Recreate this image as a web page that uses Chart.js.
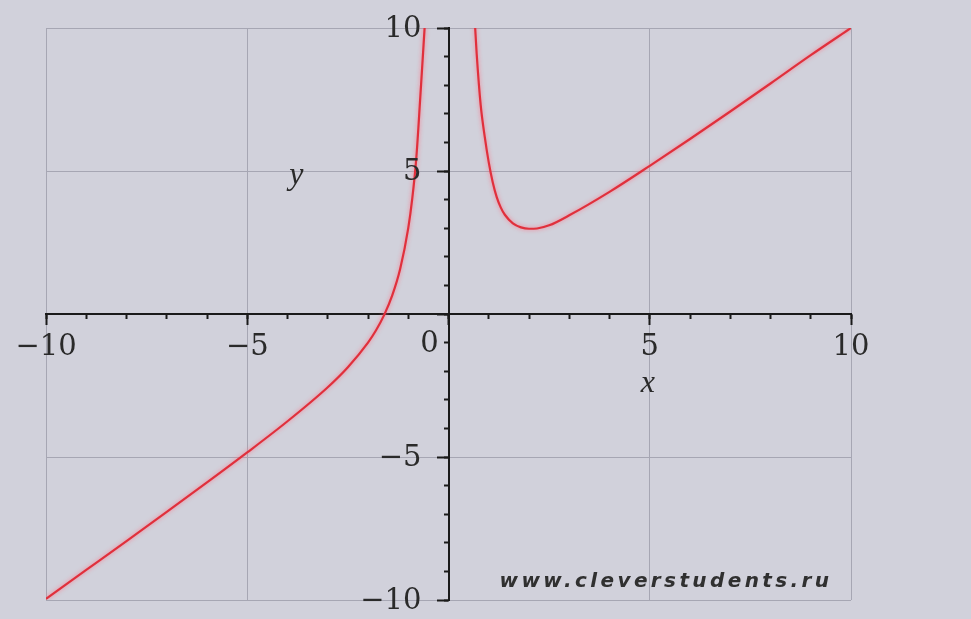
<!DOCTYPE html>
<html>
<head>
<meta charset="utf-8">
<script src="https://cdn.jsdelivr.net/npm/chart.js@4"></script>
<style>
  html, body { margin: 0; padding: 0; background: #d1d1db; }
  canvas { display: block; }
</style>
</head>
<body>
<canvas id="plot" width="971" height="619"></canvas>
<script>
// left branch (x < 0) and right branch (x > 0) of the curve
const leftX  = [-10, -9, -8, -7, -6, -5, -4, -3, -2.5, -2, -1.8, -1.6, -1.4, -1.2, -1.0, -0.9, -0.8, -0.7, -0.62, -0.55];
const leftY  = [-9.96, -8.95, -7.94, -6.92, -5.89, -4.84, -3.75, -2.56, -1.86, -1.0, -0.57, -0.04, 0.64, 1.58, 3.0, 4.04, 5.45, 7.6, 9.4, 11.0];
const rightX = [0.6, 0.65, 0.7, 0.8, 0.9, 1.0, 1.1, 1.2, 1.3, 1.4, 1.6, 1.8, 2.0, 2.2, 2.5, 3, 4, 5, 6, 7, 8, 9, 10];
const rightY = [11.7, 10.3, 9.1, 7.3, 6.2, 5.3, 4.6, 4.08, 3.72, 3.47, 3.17, 3.03, 2.98, 2.99, 3.1, 3.45, 4.27, 5.18, 6.12, 7.08, 8.06, 9.05, 10.0];

const axisMin = -10, axisMax = 10;
const majorStep = 5, minorStep = 1;

const bgColor = '#d1d1db';
const gridColor = '#a6a6b3';
const lineColor = '#e0303c';
const textColor = '#2a2a2a';
const labelFont = { family: 'DejaVu Serif', size: 29 };

function pts(xs, ys) {
    return xs.map((x, i) => ({ x: x, y: ys[i] }));
}

function fmt(v) {
    if (v === 0) return '';
    return v < 0 ? '\u2212' + Math.abs(v) : String(v);
}

// gray frame + inner grid at +-5, nothing at 0 (the axis sits there)
function gridAt(ctx) {
    return ctx.tick && ctx.tick.value === 0 ? 'rgba(0,0,0,0)' : gridColor;
}

const extras = {
    id: 'extras',
    beforeDraw(chart) {
        const c = chart.ctx;
        c.save();
        c.fillStyle = bgColor;
        c.fillRect(0, 0, chart.width, chart.height);
        c.restore();
    },
    // soft pink halo round the curve
    beforeDatasetsDraw(chart) {
        const c = chart.ctx;
        c.save();
        c.shadowColor = 'rgba(255,110,130,0.85)';
        c.shadowBlur = 4;
    },
    afterDatasetsDraw(chart) {
        chart.ctx.restore();
    },
    afterDraw(chart) {
        const c = chart.ctx;
        const xs = chart.scales.x, ys = chart.scales.y;
        const x0 = xs.getPixelForValue(0), y0 = ys.getPixelForValue(0);
        c.save();
        c.fillStyle = textColor;
        c.font = labelFont.size + 'px "' + labelFont.family + '"';
        // y tick labels, right-aligned clear of the long ticks
        c.textAlign = 'right';
        c.textBaseline = 'middle';
        ys.ticks.forEach(t => {
            const s = fmt(t.value);
            if (s) c.fillText(s, x0 - 27, ys.getPixelForValue(t.value) + 1);
        });
        // origin label, set off to the left of the vertical axis
        c.textAlign = 'center';
        c.fillText('0', x0 - 19, y0 + 30);
        // axis names
        c.font = 'italic 32px "Liberation Serif"';
        c.fillText('x', xs.getPixelForValue(4.95), ys.getPixelForValue(-2.45));
        c.fillText('y', xs.getPixelForValue(-3.78), ys.getPixelForValue(4.85));
        // site mark in the lower right corner
        c.font = 'italic bold 20px "DejaVu Sans"';
        c.fillStyle = '#303030';
        c.textAlign = 'left';
        c.textBaseline = 'alphabetic';
        c.letterSpacing = '3.4px';
        c.fillText('www.cleverstudents.ru', xs.getPixelForValue(1.27), ys.getPixelForValue(-9.55));
        c.restore();
    }
};

new Chart(document.getElementById('plot'), {
    type: 'line',
    data: {
        datasets: [
            { data: pts(leftX, leftY), borderColor: lineColor },
            { data: pts(rightX, rightY), borderColor: lineColor }
        ]
    },
    options: {
        responsive: false,
        animation: false,
        devicePixelRatio: 1,
        layout: { autoPadding: false, padding: { left: 46, top: 28, right: 120, bottom: 19 } },
        datasets: {
            line: {
                borderWidth: 2.2,
                pointRadius: 0,
                cubicInterpolationMode: 'monotone',
                fill: false
            }
        },
        plugins: {
            legend: { display: false },
            tooltip: { enabled: false }
        },
        scales: {
            // long ticks every 5 units, crossing at the origin
            x: {
                type: 'linear',
                position: { y: 0 },
                min: axisMin, max: axisMax,
                ticks: {
                    stepSize: majorStep,
                    autoSkip: false,
                    maxRotation: 0,
                    padding: 6,
                    color: textColor,
                    font: labelFont,
                    callback: fmt
                },
                grid: { color: gridAt, lineWidth: 1, tickColor: '#1a1a1a', tickLength: 10, tickWidth: 2 },
                border: { display: true, color: '#1a1a1a', width: 2 }
            },
            y: {
                type: 'linear',
                position: { x: 0 },
                min: axisMin, max: axisMax,
                ticks: { stepSize: majorStep, display: false },
                grid: { color: gridAt, lineWidth: 1, tickColor: '#1a1a1a', tickLength: 11, tickWidth: 2 },
                border: { display: true, color: '#1a1a1a', width: 2 }
            },
            // short ticks at every unit
            xMinor: {
                type: 'linear',
                position: { y: 0 },
                min: axisMin, max: axisMax,
                ticks: { stepSize: minorStep, display: false },
                grid: { drawOnChartArea: false, tickColor: '#1a1a1a', tickLength: 5, tickWidth: 2 },
                border: { display: false }
            },
            yMinor: {
                type: 'linear',
                position: { x: 0 },
                min: axisMin, max: axisMax,
                ticks: { stepSize: minorStep, display: false },
                grid: { drawOnChartArea: false, tickColor: '#1a1a1a', tickLength: 5, tickWidth: 2 },
                border: { display: false }
            }
        }
    },
    plugins: [extras]
});
</script>
</body>
</html>
